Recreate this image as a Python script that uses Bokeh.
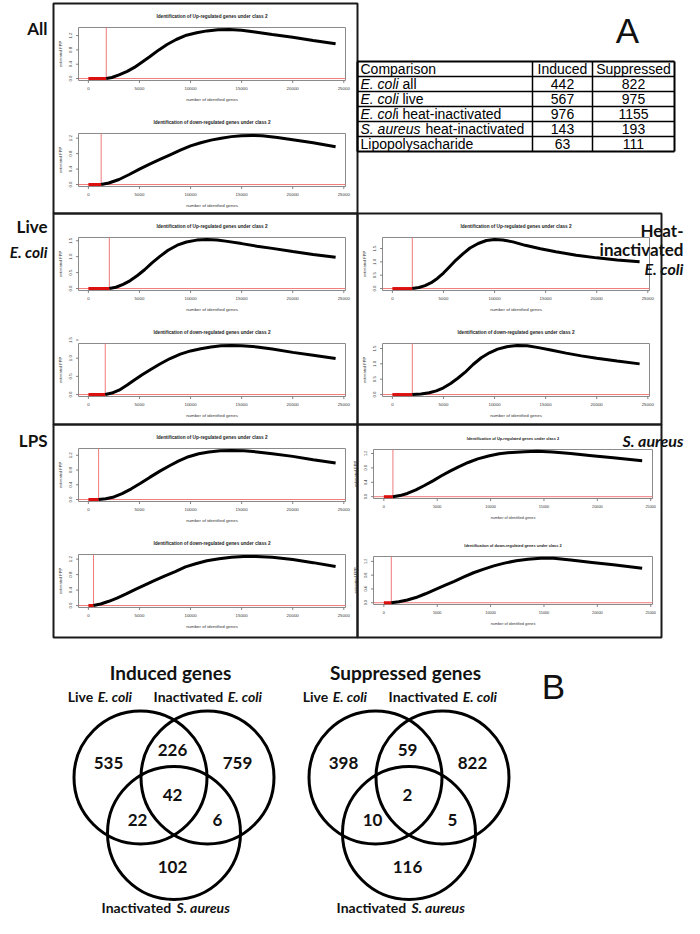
import math
from bokeh.plotting import figure
from bokeh.models import Range1d
from bokeh.embed import file_html
from bokeh.resources import INLINE
from bokeh.core.properties import value

# ---------------------------------------------------------------- data
x_ticks = [0, 5000, 10000, 15000, 20000, 25000]
yticks_a = [0.0, 0.4, 0.8, 1.2]
yticks_b = [0.0, 0.5, 1.0, 1.5]

all_up_cut = 1750
all_up_genes = [1750, 2300, 3000, 3800, 4500, 5200, 6000, 6900, 7700, 8600, 9600, 10600, 11600, 12700, 13800, 15000, 16300, 18000, 20000, 22000, 24200]
all_up_fpp = [0, 0.03, 0.10, 0.20, 0.31, 0.45, 0.61, 0.80, 0.95, 1.09, 1.21, 1.28, 1.33, 1.36, 1.37, 1.35, 1.30, 1.23, 1.15, 1.06, 0.97]

all_dn_cut = 1250
all_dn_genes = [1250, 2000, 3000, 4000, 5000, 6000, 7000, 8000, 9000, 10000, 11000, 12000, 13000, 14000, 15000, 16000, 17000, 18500, 20000, 22000, 24200]
all_dn_fpp = [0, 0.04, 0.13, 0.26, 0.40, 0.53, 0.65, 0.77, 0.89, 1.00, 1.08, 1.15, 1.20, 1.24, 1.26, 1.27, 1.26, 1.22, 1.16, 1.08, 0.98]

live_up_cut = 2050
live_up_genes = [2050, 2700, 3400, 4100, 4800, 5500, 6200, 7000, 7800, 8700, 9600, 10600, 11600, 12600, 13600, 15000, 16500, 18000, 20000, 22000, 24200]
live_up_fpp = [0, 0.04, 0.13, 0.25, 0.41, 0.59, 0.80, 1.01, 1.20, 1.36, 1.46, 1.52, 1.54, 1.52, 1.48, 1.41, 1.33, 1.26, 1.16, 1.07, 0.98]

live_dn_cut = 1650
live_dn_genes = [1650, 2300, 3000, 3800, 4500, 5300, 6100, 7000, 8000, 9000, 10000, 11000, 12000, 13000, 14000, 15000, 16500, 18000, 20000, 22000, 24200]
live_dn_fpp = [0, 0.04, 0.12, 0.26, 0.40, 0.55, 0.69, 0.84, 0.99, 1.11, 1.20, 1.26, 1.31, 1.34, 1.35, 1.34, 1.31, 1.25, 1.16, 1.08, 0.99]

heat_up_cut = 1950
heat_up_genes = [1950, 2600, 3200, 3800, 4400, 5000, 5600, 6200, 6900, 7600, 8400, 9200, 10000, 10800, 11800, 13000, 14500, 16000, 18000, 20000, 22000, 24200]
heat_up_fpp = [0, 0.04, 0.11, 0.22, 0.38, 0.58, 0.82, 1.06, 1.30, 1.52, 1.69, 1.80, 1.84, 1.82, 1.75, 1.62, 1.49, 1.38, 1.25, 1.15, 1.07, 1.00]

heat_dn_cut = 1950
heat_dn_genes = [1950, 2800, 3600, 4300, 5000, 5700, 6400, 7100, 7900, 8700, 9500, 10300, 11200, 12200, 13200, 14300, 15500, 17000, 18500, 20000, 22000, 24200]
heat_dn_fpp = [0, 0.02, 0.06, 0.12, 0.22, 0.36, 0.53, 0.72, 0.98, 1.20, 1.36, 1.48, 1.56, 1.60, 1.59, 1.53, 1.45, 1.35, 1.26, 1.18, 1.09, 1.00]

lps_up_cut = 1000
lps_up_genes = [1000, 1700, 2500, 3300, 4200, 5100, 6000, 7000, 7900, 8800, 9800, 10800, 11800, 12900, 14000, 15200, 16500, 18000, 20000, 22000, 24200]
lps_up_fpp = [0, 0.02, 0.07, 0.16, 0.29, 0.44, 0.60, 0.77, 0.91, 1.04, 1.16, 1.24, 1.29, 1.32, 1.33, 1.32, 1.29, 1.24, 1.17, 1.08, 0.99]

lps_dn_cut = 500
lps_dn_genes = [500, 1200, 2000, 2800, 3700, 4600, 5500, 6500, 7500, 8500, 9500, 10500, 11600, 12800, 14000, 15200, 16400, 18000, 20000, 22000, 24200]
lps_dn_fpp = [0, 0.04, 0.11, 0.19, 0.30, 0.42, 0.53, 0.65, 0.77, 0.88, 1.00, 1.08, 1.16, 1.21, 1.25, 1.27, 1.27, 1.25, 1.19, 1.11, 1.01]

sa_up_cut = 850
sa_up_genes = [850, 1500, 2200, 3000, 3800, 4600, 5400, 6200, 7000, 7900, 8800, 9800, 10800, 12000, 13200, 14400, 15800, 17500, 19500, 21500, 24200]
sa_up_fpp = [0, 0.03, 0.09, 0.19, 0.31, 0.44, 0.58, 0.71, 0.83, 0.95, 1.05, 1.13, 1.19, 1.23, 1.25, 1.26, 1.24, 1.20, 1.14, 1.08, 1.00]

sa_dn_cut = 700
sa_dn_genes = [700, 1400, 2200, 3000, 3900, 4800, 5700, 6600, 7500, 8400, 9300, 10300, 11300, 12400, 13500, 14700, 15900, 17500, 19500, 21500, 24200]
sa_dn_fpp = [0, 0.03, 0.08, 0.15, 0.26, 0.38, 0.50, 0.62, 0.75, 0.87, 0.97, 1.07, 1.15, 1.22, 1.26, 1.29, 1.29, 1.24, 1.17, 1.10, 1.00]

up_title = "Identification of Up-regulated genes under class 2"
dn_title = "Identification of down-regulated genes under class 2"
x_label = "number of identified genes"
y_label = "estimated FPP"

table_header = ["Comparison", "Induced", "Suppressed"]
table_italic = ["E. coli", "E. coli", "E. col", "S. aureus", ""]
table_regular = ["all", "live", "i heat-inactivated", "heat-inactivated", "Lipopolysacharide"]
table_induced = [442, 567, 976, 143, 63]
table_suppressed = [822, 975, 1155, 193, 111]

venn_titles = ["Induced genes", "Suppressed genes"]
# order: live only, live&inact E.coli, inact E.coli only, all three, live&S.aureus, inact&S.aureus, S.aureus only
induced_counts = [535, 226, 759, 42, 22, 6, 102]
suppressed_counts = [398, 59, 822, 2, 10, 5, 116]

# ---------------------------------------------------------------- figure
W, H = 684, 918
p = figure(width=W, height=H, x_range=Range1d(0, W), y_range=Range1d(H, 0),
           output_backend="svg", toolbar_location=None, min_border=0,
           x_axis_location=None, y_axis_location=None)
p.outline_line_color = None
p.grid.visible = False

PF = value("Liberation Sans")
LATO = value("Lato")


def draw_panel(fx0, fx1, ft, fb, genes, fpp, cut, yticks, title, tfs="4.7px", sfs="4.4px"):
    gmax = max(genes)
    xr = Range1d(-0.04 * gmax, 1.04 * gmax)
    ymax = max(fpp)
    yr = Range1d(-0.04 * ymax, 1.04 * ymax)
    fr_x = Range1d(fx0, fx1)
    fr_y = Range1d(fb, ft)
    xy = p.subplot(x_source=xr, y_source=yr, x_target=fr_x, y_target=fr_y)
    xs = p.subplot(x_source=xr, y_source=Range1d(0, 1), x_target=fr_x, y_target=Range1d(0, 1))
    ys = p.subplot(x_source=Range1d(0, 1), y_source=yr, x_target=Range1d(0, 1), y_target=fr_y)

    p.quad(left=[fx0], right=[fx1], top=[ft], bottom=[fb], fill_color=None,
           line_color="#8a8a8a", line_width=1)
    xy.segment(x0=[cut], y0=[yr.start], x1=[cut], y1=[yr.end], line_color="#f07a7a", line_width=1)
    xy.segment(x0=[xr.start], y0=[0], x1=[xr.end], y1=[0], line_color="#f07a7a", line_width=1)
    xy.line(x=[0, cut], y=[0, 0], line_color="#dd1010", line_width=3)
    xy.line(x=genes, y=fpp, line_color="black", line_width=3)

    n = len(x_ticks)
    xs.segment(x0=x_ticks, y0=[fb] * n, x1=x_ticks, y1=[fb + 2.5] * n, line_color="#666666", line_width=0.8)
    xs.text(x=x_ticks, y=[fb + 8] * n, text=[str(t) for t in x_ticks], text_font=PF,
            text_font_size=sfs, text_align="center", text_baseline="middle", text_color="#333333")
    mid = (xr.start + xr.end) / 2
    xs.text(x=[mid], y=[fb + 19], text=[x_label], text_font=PF, text_font_size=sfs,
            text_align="center", text_baseline="middle", text_color="#333333")
    xs.text(x=[mid], y=[ft - 11], text=[title], text_font=PF, text_font_size=tfs,
            text_font_style="bold", text_align="center", text_baseline="middle", text_color="#222222")
    m = len(yticks)
    ys.segment(x0=[fx0 - 2.5] * m, y0=yticks, x1=[fx0] * m, y1=yticks, line_color="#666666", line_width=0.8)
    ys.text(x=[fx0 - 8] * m, y=yticks, text=["%.1f" % t for t in yticks], text_font=PF,
            text_font_size=sfs, text_align="center", text_baseline="middle", angle=math.pi / 2,
            text_color="#333333")
    ys.text(x=[fx0 - 18], y=[(yr.start + yr.end) / 2], text=[y_label], text_font=PF,
            text_font_size="4px", text_align="center", text_baseline="middle", angle=math.pi / 2,
            text_color="#333333")


# boxes: left, top, bottom
BOX_W = 304
box_specs = [
    (53, 3, 213, all_up_genes, all_up_fpp, all_up_cut, all_dn_genes, all_dn_fpp, all_dn_cut, yticks_a, False),
    (53, 213, 424, live_up_genes, live_up_fpp, live_up_cut, live_dn_genes, live_dn_fpp, live_dn_cut, yticks_b, False),
    (357, 213, 424, heat_up_genes, heat_up_fpp, heat_up_cut, heat_dn_genes, heat_dn_fpp, heat_dn_cut, yticks_b, False),
    (53, 424, 637, lps_up_genes, lps_up_fpp, lps_up_cut, lps_dn_genes, lps_dn_fpp, lps_dn_cut, yticks_a, False),
    (357, 424, 637, sa_up_genes, sa_up_fpp, sa_up_cut, sa_dn_genes, sa_dn_fpp, sa_dn_cut, yticks_a, True),
]
for bx, bt, bb, ug, uf, uc, dg, df, dc, yt, narrow in box_specs:
    if narrow:
        draw_panel(bx + 16, bx + 295, bt + 25, bt + 74, ug, uf, uc, yt, up_title, tfs="3.9px", sfs="3.8px")
        draw_panel(bx + 16, bx + 295, bt + 132, bt + 180, dg, df, dc, yt, dn_title, tfs="3.9px", sfs="3.8px")
    else:
        draw_panel(bx + 25, bx + 292, bt + 24, bt + 77, ug, uf, uc, yt, up_title)
        draw_panel(bx + 25, bx + 292, bt + 130, bt + 183, dg, df, dc, yt, dn_title)
    p.quad(left=[bx], right=[bx + BOX_W], top=[bt], bottom=[bb], fill_color=None,
           line_color="#1a1a1a", line_width=2)

# side labels
side = dict(text_font=LATO, text_baseline="middle", text_color="#111111")
p.text(x=[47, 47, 47], y=[28, 226, 440], text=["All", "Live", "LPS"], text_align="right",
       text_font_style="bold", text_font_size="17px", **side)
p.text(x=[47], y=[251], text=["E. coli"], text_align="right", text_font_style="bold italic",
       text_font_size="15.5px", **side)
p.text(x=[683, 683], y=[230, 249], text=["Heat-", "inactivated"], text_align="right",
       text_font_style="bold", text_font_size="17px", **side)
p.text(x=[683, 683], y=[268, 440], text=["E. coli", "S. aureus"], text_align="right",
       text_font_style="bold italic", text_font_size="16px", **side)

# panel letters
p.text(x=[627, 553], y=[30, 686], text=["A", "B"], text_font=PF, text_font_size="35px",
       text_align="center", text_baseline="middle", text_color="#111111")

# table
col_edges = [357, 532, 592, 674]
row_top, row_h = 61, 15
nrows = len(table_regular) + 1
for i in range(nrows + 1):
    yy = row_top + i * row_h
    p.segment(x0=[col_edges[0]], y0=[yy], x1=[col_edges[-1]], y1=[yy], line_color="black",
              line_width=2 if i in (0, nrows) else 1.5)
for j, xx in enumerate(col_edges):
    p.segment(x0=[xx], y0=[row_top], x1=[xx], y1=[row_top + nrows * row_h], line_color="black",
              line_width=2 if j in (0, len(col_edges) - 1) else 1.5)
tstyle = dict(text_font=PF, text_font_size="14px", text_baseline="middle", text_color="black")
cy0 = row_top + row_h / 2
p.text(x=[360], y=[cy0], text=[table_header[0]], text_align="left", **tstyle)
p.text(x=[562, 633], y=[cy0, cy0], text=table_header[1:], text_align="center", **tstyle)
ry = [cy0 + (i + 1) * row_h for i in range(len(table_regular))]
reg_x = [402, 402, 395, 425, 360]
p.text(x=[360] * 4, y=ry[:4], text=table_italic[:4], text_align="left", text_font_style="italic", **tstyle)
p.text(x=reg_x, y=ry, text=table_regular, text_align="left", **tstyle)
p.text(x=[562] * 5, y=ry, text=[str(v) for v in table_induced], text_align="center", **tstyle)
p.text(x=[633] * 5, y=ry, text=[str(v) for v in table_suppressed], text_align="center", **tstyle)


# venn diagrams
def draw_venn(cx, cy, title, counts):
    R = 66.5
    p.circle(x=[cx - 33.5, cx + 33.5, cx], y=[cy, cy, cy + 55.5], radius=R, fill_color=None,
             line_color="black", line_width=3)
    offs = [(-65.5, -15), (-1.5, -28), (63.5, -15), (-1.5, 17), (-36.5, 42), (43.5, 42), (-1.5, 89)]
    p.text(x=[cx + dx for dx, dy in offs], y=[cy + dy for dx, dy in offs], text=[str(c) for c in counts],
           text_font=LATO, text_font_size="17px", text_font_style="bold", text_align="center",
           text_baseline="middle", text_color="#111111")
    p.text(x=[cx - 3.5], y=[cy - 105], text=[title], text_font=LATO, text_font_size="19px",
           text_font_style="bold", text_align="center", text_baseline="middle", text_color="#111111")
    lab = dict(text_font=LATO, text_font_size="14px", text_baseline="middle", text_color="#111111")
    p.text(x=[cx - 80.8, cx + 49.2, cx - 2.8], y=[cy - 81, cy - 81, cy + 130],
           text=["Live", "Inactivated", "Inactivated"], text_align="right", text_font_style="bold", **lab)
    p.text(x=[cx - 76.2, cx + 53.8, cx + 2.5], y=[cy - 81, cy - 81, cy + 130],
           text=["E. coli", "E. coli", "S. aureus"], text_align="left", text_font_style="bold italic", **lab)


VENN_CY = 777
draw_venn(173.5, VENN_CY, venn_titles[0], induced_counts)
draw_venn(408.5, VENN_CY, venn_titles[1], suppressed_counts)

open("out.html", "w").write(file_html(p, INLINE))
